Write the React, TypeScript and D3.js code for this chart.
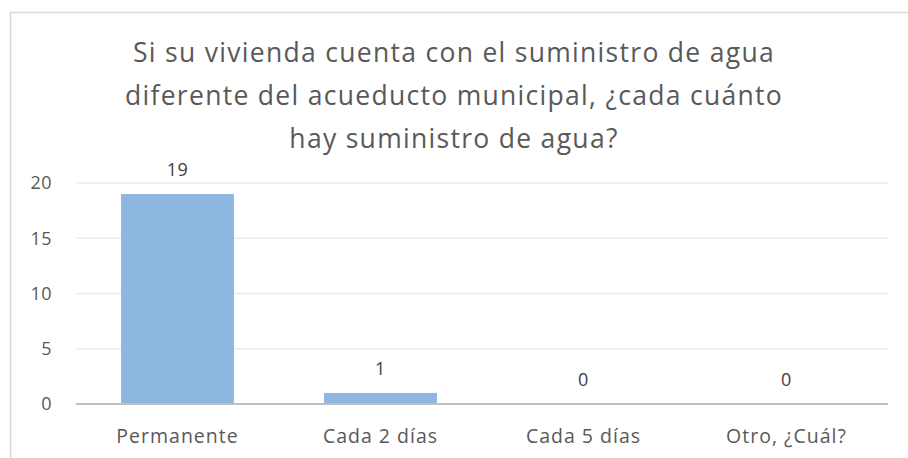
import React from "react";
import * as d3 from "d3";

const titleLines = [
  "Si su vivienda cuenta con el suministro de agua",
  "diferente del acueducto municipal, ¿cada cuánto",
  "hay suministro de agua?",
];
const categories = ["Permanente", "Cada 2 días", "Cada 5 días", "Otro, ¿Cuál?"];
const values = [19, 1, 0, 0];
const yTicks = [0, 5, 10, 15, 20];

const W = 908;
const H = 458;
const plotLeft = 76;
const plotRight = 888;
const plotTop = 183;
const plotBottom = 404;
const FONT = "'Open Sans', 'Noto Sans', sans-serif";
const TEXT = "#595959";

export default function App() {
  const x = d3
    .scaleBand<string>()
    .domain(categories)
    .range([plotLeft, plotRight])
    .paddingInner(0.444)
    .paddingOuter(0.222);
  const y = d3.scaleLinear().domain([0, 20]).range([plotBottom, plotTop]);

  return (
    <svg
      width={W}
      height={H}
      style={{ position: "absolute", left: 0, top: 0, background: "#fff" }}
    >
      <rect x={10.5} y={12.5} width={W + 20} height={H + 20} fill="#fff" stroke="#d9d9d9" strokeWidth={1.5} />
      {titleLines.map((t, i) => (
        <text
          key={i}
          x={454}
          y={62 + i * 43}
          textAnchor="middle"
          fontFamily={FONT}
          fontSize={26.5}
          letterSpacing={1.3}
          fill={TEXT}
        >
          {t}
        </text>
      ))}
      {yTicks.map((t) => (
        <g key={t}>
          {t !== 0 && (
            <line x1={plotLeft} x2={plotRight} y1={y(t)} y2={y(t)} stroke="#ececec" strokeWidth={1.3} />
          )}
          <text
            x={52}
            y={y(t)}
            dy="0.35em"
            textAnchor="end"
            fontFamily={FONT}
            fontSize={18}
            letterSpacing={0.5}
            fill={TEXT}
          >
            {t}
          </text>
        </g>
      ))}
      {categories.map((c, i) => (
        <g key={c}>
          {values[i] > 0 && (
            <rect
              x={x(c)!}
              y={y(values[i])}
              width={x.bandwidth()}
              height={y(0) - y(values[i])}
              fill="#8db6e1"
            />
          )}
          <text
            x={x(c)! + x.bandwidth() / 2}
            y={y(values[i]) - 18}
            textAnchor="middle"
            fontFamily={FONT}
            fontSize={18}
            letterSpacing={0.5}
            fill="#404040"
          >
            {values[i]}
          </text>
          <text
            x={x(c)! + x.bandwidth() / 2}
            y={443}
            textAnchor="middle"
            fontFamily={FONT}
            fontSize={19.5}
            letterSpacing={1}
            fill={TEXT}
          >
            {c}
          </text>
        </g>
      ))}
      <line x1={plotLeft} x2={plotRight} y1={plotBottom} y2={plotBottom} stroke="#bfbfbf" strokeWidth={2} />
    </svg>
  );
}
